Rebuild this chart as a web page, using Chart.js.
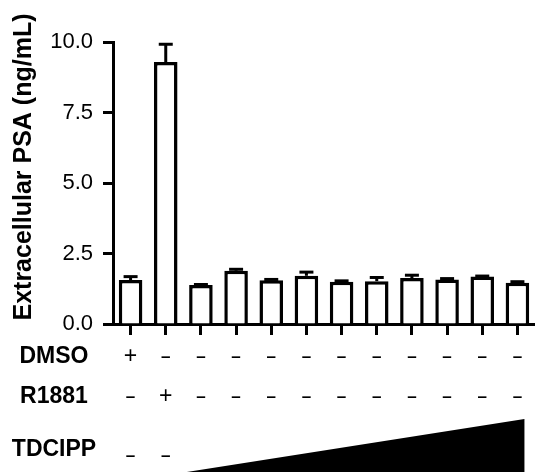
<!DOCTYPE html>
<html>
<head>
<meta charset="utf-8">
<script src="https://cdn.jsdelivr.net/npm/chart.js@4/dist/chart.umd.min.js"></script>
<style>
html,body{margin:0;padding:0;background:#fff;}
canvas{display:block;}
</style>
</head>
<body>
<canvas id="c" width="535" height="472"></canvas>
<script>
// ---- data ----
const categories = ['DMSO', 'R1881', 'TDCIPP 1', 'TDCIPP 2', 'TDCIPP 3', 'TDCIPP 4', 'TDCIPP 5', 'TDCIPP 6', 'TDCIPP 7', 'TDCIPP 8', 'TDCIPP 9', 'TDCIPP 10'];
const psaMean = [1.56, 9.29, 1.38, 1.89, 1.55, 1.71, 1.50, 1.52, 1.63, 1.58, 1.68, 1.46];
const psaSem  = [0.12, 0.63, 0.02, 0.05, 0.03, 0.13, 0.03, 0.13, 0.10, 0.03, 0.02, 0.04];
const dmsoRow  = ['+', '-', '-', '-', '-', '-', '-', '-', '-', '-', '-', '-'];
const r1881Row = ['-', '+', '-', '-', '-', '-', '-', '-', '-', '-', '-', '-'];
const tdcippRow = ['-', '-'];   // remaining groups: increasing dose (wedge)
const rowNames = ['DMSO', 'R1881', 'TDCIPP'];
const yTitle = 'Extracellular PSA (ng/mL)';
const yMin = 0, yMax = 10, yStep = 2.5;

const FONT = "'Liberation Sans', Arial, Helvetica, sans-serif";

const errorBars = {
  id: 'errorBars',
  afterDatasetsDraw(chart) {
    const ctx = chart.ctx;
    const ys = chart.scales.y;
    const meta = chart.getDatasetMeta(0);
    ctx.save();
    ctx.strokeStyle = '#000';
    ctx.lineWidth = 3;
    ctx.lineCap = 'butt';
    meta.data.forEach((bar, i) => {
      const x = bar.x;
      const y0 = ys.getPixelForValue(psaMean[i]);
      const y1 = ys.getPixelForValue(psaMean[i] + psaSem[i]);
      ctx.beginPath();
      ctx.moveTo(x, y0);
      ctx.lineTo(x, y1);
      ctx.stroke();
      ctx.beginPath();
      ctx.moveTo(x - 7, y1);
      ctx.lineTo(x + 7, y1);
      ctx.stroke();
    });
    ctx.restore();
  }
};

const annotations = {
  id: 'annotations',
  afterDraw(chart) {
    const ctx = chart.ctx;
    const xs = chart.scales.x;
    ctx.save();
    ctx.fillStyle = '#000';
    // y axis title
    ctx.save();
    ctx.translate(24, 167);
    ctx.rotate(-Math.PI / 2);
    ctx.font = 'bold 25px ' + FONT;
    ctx.textAlign = 'center';
    ctx.textBaseline = 'middle';
    ctx.fillText(yTitle, 0, 0);
    ctx.restore();

    const rowY = [357, 397, 450];
    ctx.font = 'bold 23px ' + FONT;
    ctx.textAlign = 'center';
    ctx.textBaseline = 'middle';
    rowNames.forEach((n, r) => ctx.fillText(n, 54, rowY[r]));

    const drawSign = (s, x, y) => {
      if (s === '+') {
        ctx.font = '23px ' + FONT;
        ctx.fillText('+', x, y);
      } else {
        ctx.font = 'bold 17px ' + FONT;
        ctx.fillText('\u2013', x, y);
      }
    };
    dmsoRow.forEach((s, i) => drawSign(s, xs.getPixelForValue(i), 357));
    r1881Row.forEach((s, i) => drawSign(s, xs.getPixelForValue(i), 397));
    tdcippRow.forEach((s, i) => drawSign(s, xs.getPixelForValue(i), 456));

    // dose wedge
    const step = xs.getPixelForValue(3) - xs.getPixelForValue(2);
    const xl = xs.getPixelForValue(2) - 0.4 * step;
    const xr = xs.getPixelForValue(categories.length - 1) + 0.2 * step;
    ctx.beginPath();
    ctx.moveTo(xl, 472);
    ctx.lineTo(xr, 419);
    ctx.lineTo(xr, 472);
    ctx.closePath();
    ctx.fill();
    ctx.restore();
  }
};

new Chart(document.getElementById('c'), {
  type: 'bar',
  data: {
    labels: categories,
    datasets: [{
      data: psaMean,
      backgroundColor: '#fff',
      borderColor: '#000',
      borderWidth: 3.5,
      barPercentage: 0.67,
      categoryPercentage: 1.0
    }]
  },
  options: {
    responsive: false,
    animation: false,
    layout: { padding: { top: 42, left: 0, right: -3, bottom: 0 } },
    plugins: { legend: { display: false }, tooltip: { enabled: false } },
    scales: {
      x: {
        offset: true,
        grid: { offset: false, drawOnChartArea: false, drawTicks: true, tickLength: 11, tickWidth: 3, tickColor: '#000' },
        border: { display: true, color: '#000', width: 3 },
        ticks: { display: false },
        afterFit(s) { s.height = 148; }
      },
      y: {
        min: yMin, max: yMax,
        grid: { drawOnChartArea: false, drawTicks: true, tickLength: 10, tickWidth: 3, tickColor: '#000' },
        border: { display: true, color: '#000', width: 3 },
        ticks: {
          stepSize: yStep, color: '#000', padding: 10,
          font: { family: FONT, size: 22 },
          callback: v => Number(v).toFixed(1)
        },
        afterFit(s) { s.width = 113; }
      }
    }
  },
  plugins: [errorBars, annotations]
});
</script>
</body>
</html>
